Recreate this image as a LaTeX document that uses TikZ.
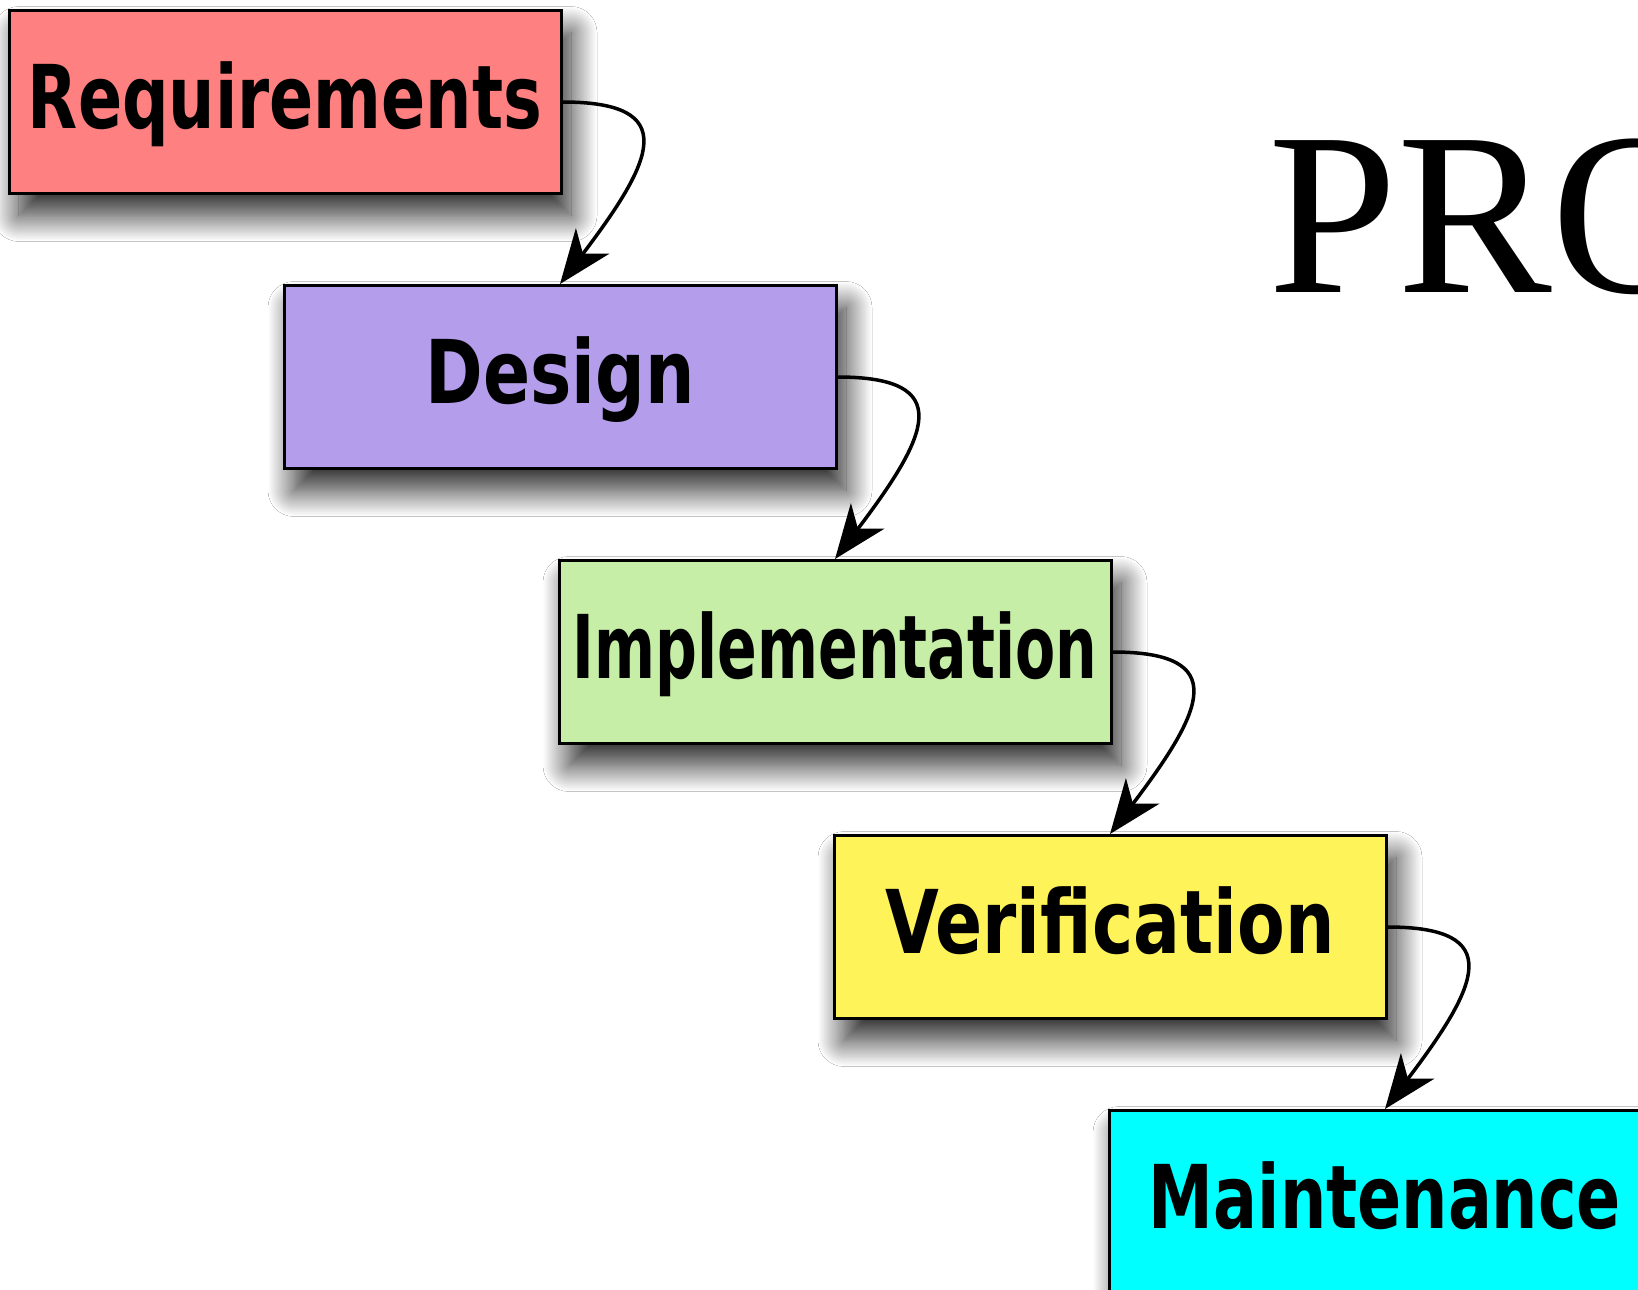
\documentclass[tikz,border=0pt]{standalone}
\usepackage{fontspec}
\newfontfamily\boxfont{DejaVu Sans}[FakeStretch=0.74]
\newfontfamily\boxfontw{DejaVu Sans}[FakeStretch=0.79]
\newfontfamily\boxfontn{DejaVu Sans}[FakeStretch=0.665]
\newfontfamily\titlefont{Liberation Serif}
\usetikzlibrary{arrows.meta,shadows.blur}
\definecolor{reqc}{RGB}{255,128,128}
\definecolor{desc}{RGB}{180,158,236}
\definecolor{impc}{RGB}{198,238,166}
\definecolor{verc}{RGB}{255,243,90}
\definecolor{maic}{RGB}{0,255,255}
\begin{document}
\begin{tikzpicture}[x=1pt,y=-1pt,
  stage/.style={draw=black, line width=3pt, minimum width=552pt, minimum height=183pt,
    inner sep=0pt, font=\boxfont\bfseries\fontsize{88}{100}\selectfont,
    text height=64pt, text depth=12pt,
    blur shadow={shadow xshift=10pt, shadow yshift=-22pt, shadow blur radius=26pt,
      shadow blur steps=30, shadow opacity=85}},
  wide/.style={font=\boxfontw\bfseries\fontsize{88}{100}\selectfont},
  narrow/.style={font=\boxfontn\bfseries\fontsize{88}{100}\selectfont},
  flow/.style={line width=3.5pt, -{Stealth[length=54pt,width=42pt,inset=16pt]}}]
\path[use as bounding box, fill=white] (0,0) rectangle (1638,1290);
\clip (0,0) rectangle (1638,1290);
\node[stage, fill=reqc] (req) at (285,102) {Requirements};
\node[stage, wide, fill=desc] (des) at (560,377) {Design};
\node[stage, narrow, fill=impc] (imp) at (835,652) {Implementation};
\node[stage, wide, fill=verc] (ver) at (1110,927) {Verification};
\node[stage, fill=maic] (mai) at (1385,1202) {Maintenance};
\draw[flow] (req.east) .. controls +(119,0) and +(94,-124) .. (des.north);
\draw[flow] (des.east) .. controls +(119,0) and +(94,-124) .. (imp.north);
\draw[flow] (imp.east) .. controls +(119,0) and +(94,-124) .. (ver.north);
\draw[flow] (ver.east) .. controls +(119,0) and +(94,-124) .. (mai.north);
\node[font=\titlefont\fontsize{232}{250}\selectfont, anchor=base west, inner sep=0pt] (pro) at (1268,292) {PRO};
\end{tikzpicture}
\end{document}
